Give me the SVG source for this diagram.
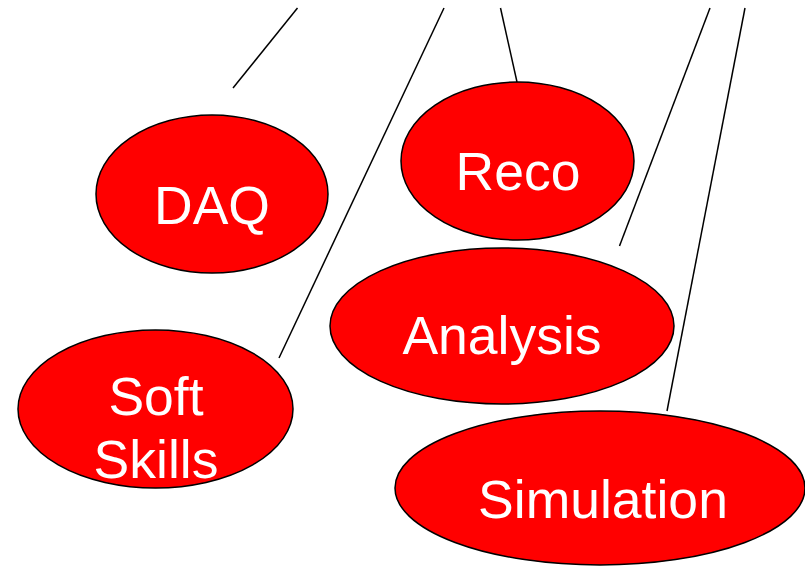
<svg xmlns="http://www.w3.org/2000/svg" width="805" height="566" viewBox="0 0 805 566">
<style>
.n{fill:#ff0000;stroke:#000;stroke-width:1.5}
.t{fill:#fff;font-family:"Liberation Sans",Arial,sans-serif;font-size:53.5px;text-anchor:middle}
.c line{stroke:#000;stroke-width:1.5}
</style>
<rect width="805" height="566" fill="#fff"/>
<g class="c" id="connectors">
<line x1="297.5" y1="8" x2="233" y2="88"/>
<line x1="444" y1="8" x2="279" y2="358"/>
<line x1="500.5" y1="8" x2="517" y2="82"/>
<line x1="710" y1="8" x2="619.5" y2="246"/>
<line x1="745" y1="8" x2="667" y2="411"/>
</g>
<g id="daq"><ellipse class="n" cx="212" cy="194" rx="116" ry="79"/><text class="t" x="212" y="224">DAQ</text></g>
<g id="reco"><ellipse class="n" cx="517.5" cy="161" rx="116.5" ry="79"/><text class="t" x="518" y="190">Reco</text></g>
<g id="analysis"><ellipse class="n" cx="502" cy="326" rx="172" ry="78"/><text class="t" x="502" y="354">Analysis</text></g>
<g id="softskills"><ellipse class="n" cx="155.5" cy="409" rx="137.5" ry="79"/><text class="t" x="156" y="415">Soft</text><text class="t" x="156" y="478">Skills</text></g>
<g id="simulation"><ellipse class="n" cx="600" cy="488" rx="205" ry="77"/><text class="t" x="603" y="518">Simulation</text></g>
</svg>
